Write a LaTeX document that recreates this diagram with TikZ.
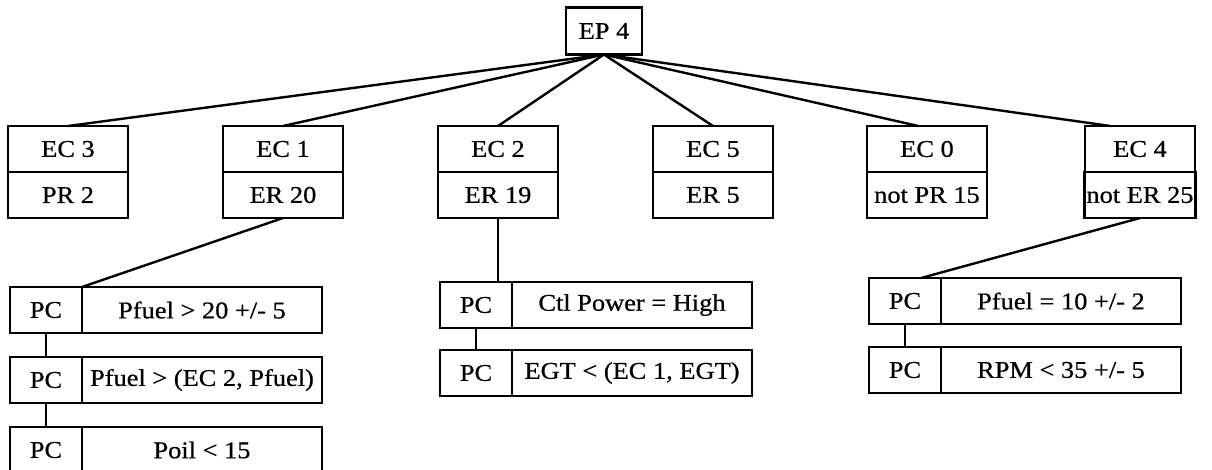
\documentclass[tikz,border=0pt]{standalone}
\usepackage{fontspec}
\setmainfont{Liberation Serif}[FakeStretch=1.1,FakeBold=0.6]
\usetikzlibrary{positioning}

\begin{document}
\begin{tikzpicture}[x=1pt,y=-1pt,line width=2.4pt,font=\fontsize{24}{28}\selectfont]
\tikzstyle{cell}=[draw,rectangle,fill=white,minimum height=46pt,inner sep=2pt,outer sep=0pt]
\tikzstyle{ecbox}=[cell,minimum width=120pt]
\tikzstyle{pcbox}=[cell,minimum width=72pt]
\tikzstyle{condbox}=[cell,minimum width=240pt]
\useasboundingbox (0,0) rectangle (1212,469);

% root
\node [cell,minimum width=76pt,minimum height=47pt] (ep4) at (604,31) {EP 4};

% episode cases
\node [ecbox] (ec3) at (68,149) {EC 3};
\node [ecbox,below=0pt of ec3] (pr2) {PR 2};
\node [ecbox] (ec1) at (283,149) {EC 1};
\node [ecbox,below=0pt of ec1] (er20) {ER 20};
\node [ecbox] (ec2) at (498,149) {EC 2};
\node [ecbox,below=0pt of ec2] (er19) {ER 19};
\node [ecbox] (ec5) at (713,149) {EC 5};
\node [ecbox,below=0pt of ec5] (er5) {ER 5};
\node [ecbox] (ec0) at (927,149) {EC 0};
\node [ecbox,below=0pt of ec0] (npr15) {not PR 15};
\node [ecbox,minimum width=110pt] (ec4) at (1140,149) {EC 4};
\node [ecbox,minimum width=110pt,below=0pt of ec4] (ner25) {not ER 25};

% conditions under EC 1
\node [pcbox] (pc11) at (46,310) {PC};
\node [condbox,right=0pt of pc11] (cd11) {Pfuel > 20 +/- 5};
\node [pcbox,below=24pt of pc11] (pc12) {PC};
\node [condbox,right=0pt of pc12] (cd12) {Pfuel > (EC 2, Pfuel)};
\node [pcbox,below=24pt of pc12] (pc13) {PC};
\node [condbox,right=0pt of pc13] (cd13) {Poil < 15};

% conditions under EC 2
\node [pcbox] (pc21) at (476,305) {PC};
\node [condbox,right=0pt of pc21] (cd21) {Ctl Power = High};
\node [pcbox,below=22pt of pc21] (pc22) {PC};
\node [condbox,right=0pt of pc22] (cd22) {EGT < (EC 1, EGT)};

% conditions under EC 4
\node [pcbox] (pc41) at (905,301) {PC};
\node [condbox,right=0pt of pc41] (cd41) {Pfuel = 10 +/- 2};
\node [pcbox,below=23pt of pc41] (pc42) {PC};
\node [condbox,right=0pt of pc42] (cd42) {RPM < 35 +/- 5};

% links
\foreach \n in {ec3,ec1,ec2,ec5}
  \draw (ep4.south) -- (\n.north);
\draw (ep4.south) -- (ec0.111);
\draw (ep4.south) -- (ec4.142);
\draw (er20.south) -- (pc11.north east);
\draw (er19.south) -- (er19.south |- pc21.north);
\draw (ner25.south) -- (pc41.55);
\draw (pc11) -- (pc12);
\draw (pc12) -- (pc13);
\draw (pc21) -- (pc22);
\draw (pc41) -- (pc42);
\end{tikzpicture}
\end{document}
